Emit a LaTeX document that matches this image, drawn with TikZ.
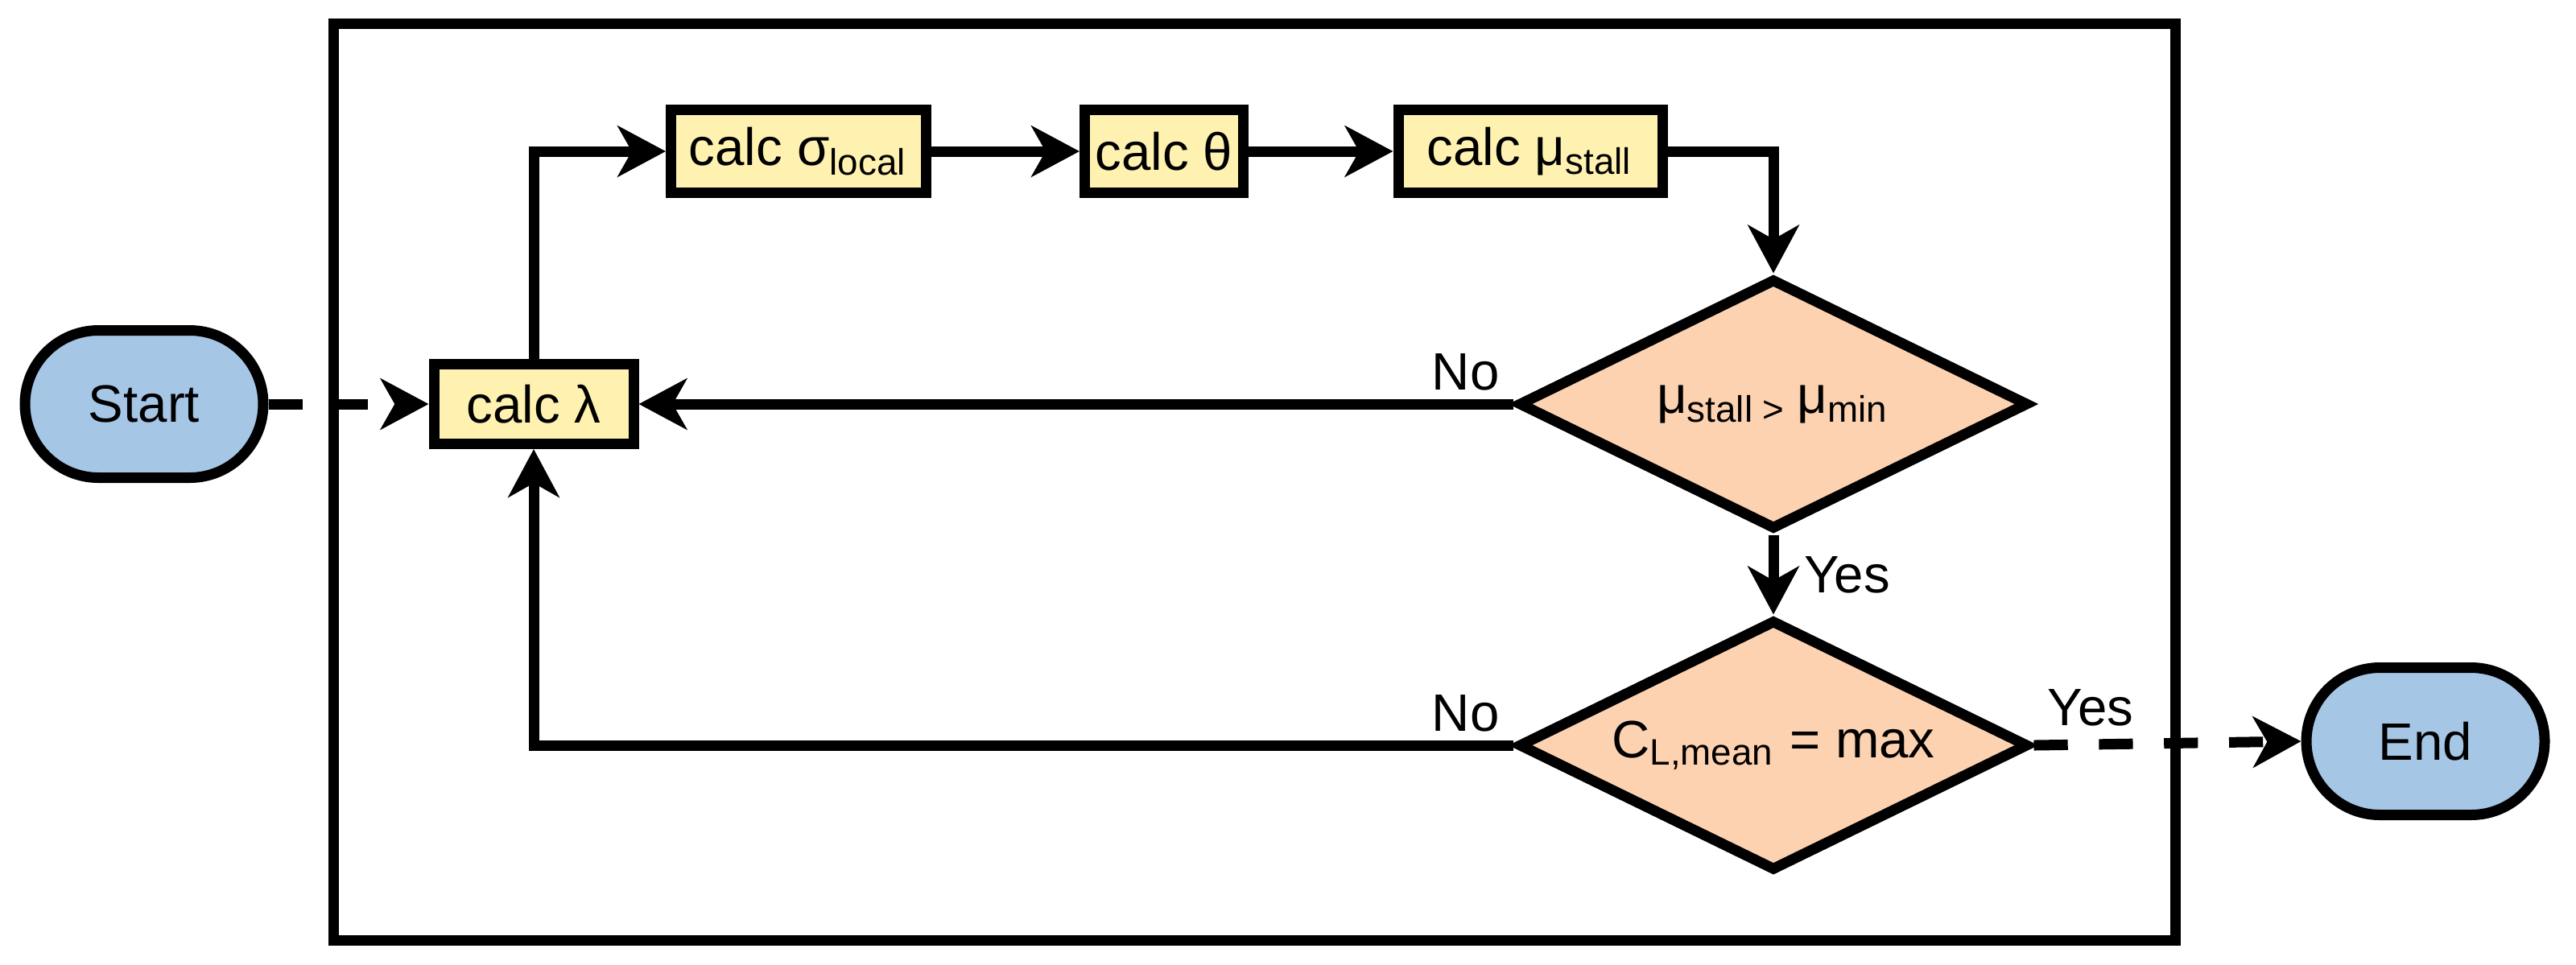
\documentclass[tikz,border=0pt]{standalone}
\usepackage{fontspec}
\setmainfont{Liberation Sans}
\usetikzlibrary{shapes.geometric,arrows.meta}

\definecolor{calcfill}{RGB}{255,242,176}
\definecolor{checkfill}{RGB}{253,210,176}
\definecolor{termfill}{RGB}{166,198,230}

\begin{document}
\begin{tikzpicture}[
	every node/.style={font=\fontsize{9.3}{11}\selectfont},
	calcbox/.style={draw, line width=1.85pt, fill=calcfill, minimum height=0.515cm, inner sep=0pt},
	check/.style={diamond, aspect=2.05, draw, line width=1.85pt, fill=checkfill, minimum width=3.17cm, minimum height=1.56cm, inner sep=0pt},
	terminal/.style={draw, line width=1.85pt, fill=termfill, rounded corners=13pt, minimum width=1.48cm, minimum height=0.915cm},
	flow/.style={line width=1.85pt, -{Stealth[length=8.5pt, width=9pt, inset=2.5pt]}},
	dashflow/.style={flow, dash pattern=on 6pt off 5.5pt},
	answer/.style={inner sep=1.5pt}
]
	\useasboundingbox (0,0) rectangle (16,5.99);
	% frame
	\draw[line width=1.85pt] (2.07,0.15) rectangle (13.51,5.845);
	% start and end
	\node[terminal] (start) at (0.895,3.48) {Start};
	\node[terminal] (end) at (15.065,1.385) {End};
	% calc steps
	\node[calcbox, minimum width=1.24cm, minimum height=0.495cm] (lambda) at (3.315,3.48) {calc λ};
	\node[calcbox, minimum width=1.585cm] (sigma) at (4.96,5.05) {calc σ\textsubscript{local}};
	\node[calcbox, minimum width=0.985cm] (theta) at (7.23,5.05) {calc θ};
	\node[calcbox, minimum width=1.64cm] (mustall) at (9.505,5.05) {calc μ\textsubscript{stall}};
	% checks
	\node[check] (stallcheck) at (11.015,3.48) {μ\textsubscript{stall > }μ\textsubscript{min}};
	\node[check] (liftcheck) at (11.015,1.36) {C\textsubscript{L,mean} = max};
	% connectors
	\draw[dashflow] (start) -- (lambda);
	\draw[flow] (lambda.north) |- (sigma.west);
	\draw[flow] (sigma) -- (theta);
	\draw[flow] (theta) -- (mustall);
	\draw[flow] (mustall.east) -| (stallcheck.north);
	\draw[flow] (stallcheck.west) node[answer, anchor=south east] {No} -- (lambda.east);
	\draw[flow] (stallcheck.south) -- (liftcheck.north) node[answer, midway, right, xshift=3pt] {Yes};
	\draw[flow] (liftcheck.west) node[answer, anchor=south east] {No} -| (lambda.south);
	\draw[dashflow] (liftcheck.east) node[answer, anchor=south west, yshift=1pt] {Yes} -- (end.west);
\end{tikzpicture}
\end{document}
